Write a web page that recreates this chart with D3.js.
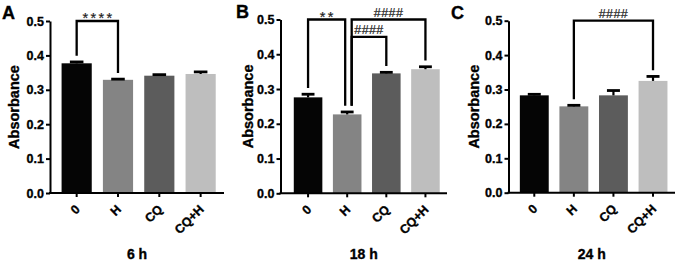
<!DOCTYPE html>
<html>
<head>
<meta charset="utf-8">
<script src="https://cdn.jsdelivr.net/npm/d3@7"></script>
<style>
  html, body { margin: 0; padding: 0; background: #fff; }
  svg { display: block; font-family: "Liberation Sans", Arial, sans-serif; }
  .heavy { font-weight: bold; stroke: #000; stroke-width: 0.35px; fill: #000; }
</style>
</head>
<body>
<div id="chart"></div>
<script>
// --- data ---
const categories = ['0', 'H', 'CQ', 'CQ+H'];
const panelLetters = ['A', 'B', 'C'];
const timeLabels = ['6 h', '18 h', '24 h'];
const yTicks = [0, 0.1, 0.2, 0.3, 0.4, 0.5];

const means6h = [0.377, 0.329, 0.341, 0.346];
const sem6h = [0.004, 0.002, 0.003, 0.006];
const means18h = [0.276, 0.227, 0.345, 0.357];
const sem18h = [0.009, 0.007, 0.003, 0.007];
const means24h = [0.283, 0.251, 0.283, 0.325];
const sem24h = [0.003, 0.003, 0.014, 0.013];

const brackets6h = [{ from: '0', to: 'H', level: 0.5, label: '****' }];
const brackets18h = [
  { from: '0', to: 'H', level: 0.5, label: '**' },
  { from: 'H', to: 'CQ+H', level: 0.5, label: '####' },
  { from: 'H', to: 'CQ', level: 0.45, label: '####' }
];
const brackets24h = [{ from: 'H', to: 'CQ+H', level: 0.5, label: '####' }];

const barColors = ['#050505', '#848484', '#5c5c5c', '#bebebe'];

// layout of the three panels (pixel frame of each plot area)
const panels = [
  { means: means6h, sem: sem6h, brackets: brackets6h,
    axisX: 50, axisEnd: 224, band: [56, 221.3], top: 21, bottom: 193,
    letter: [2, 19], titleOff: 31 },
  { means: means18h, sem: sem18h, brackets: brackets18h,
    axisX: 280.5, axisEnd: 447, band: [288.5, 445], top: 19.5, bottom: 193.3,
    letter: [236, 18], titleOff: 28 },
  { means: means24h, sem: sem24h, brackets: brackets24h,
    axisX: 508.5, axisEnd: 675, band: [514.5, 672.8], top: 20.7, bottom: 192.7,
    letter: [451, 19], titleOff: 30 }
];

const W = 677, H = 265;
const svg = d3.select('#chart').append('svg')
  .attr('width', W).attr('height', H)
  .attr('viewBox', `0 0 ${W} ${H}`);

panels.forEach((p, pi) => {
  const g = svg.append('g');

  const x = d3.scaleBand().domain(categories).range(p.band)
    .paddingInner(0.27).paddingOuter(0.135);
  const y = d3.scaleLinear().domain([0, 0.5]).range([p.bottom, p.top]);
  const cx = (c) => x(c) + x.bandwidth() / 2;

  // bars
  g.selectAll('rect.bar')
    .data(categories)
    .join('rect')
    .attr('class', 'bar')
    .attr('x', (d) => x(d))
    .attr('width', x.bandwidth())
    .attr('y', (d, i) => y(p.means[i]))
    .attr('height', (d, i) => y(0) - y(p.means[i]))
    .attr('fill', (d, i) => barColors[i]);

  // error bars (upper only, GraphPad style)
  const capW = x.bandwidth() * 0.45;
  const err = g.selectAll('g.err').data(categories).join('g').attr('class', 'err');
  err.append('line')
    .attr('x1', (d) => cx(d)).attr('x2', (d) => cx(d))
    .attr('y1', (d, i) => y(p.means[i]))
    .attr('y2', (d, i) => y(p.means[i] + p.sem[i]))
    .attr('stroke', '#000').attr('stroke-width', 2.2);
  err.append('line')
    .attr('x1', (d) => cx(d) - capW / 2).attr('x2', (d) => cx(d) + capW / 2)
    .attr('y1', (d, i) => y(p.means[i] + p.sem[i]))
    .attr('y2', (d, i) => y(p.means[i] + p.sem[i]))
    .attr('stroke', '#000').attr('stroke-width', 2.8);

  // y axis
  const yAxisG = g.append('g')
    .attr('transform', `translate(${p.axisX},0)`)
    .call(d3.axisLeft(y).tickValues(yTicks).tickFormat(d3.format('.1f'))
      .tickSize(4).tickSizeOuter(0).tickPadding(2));
  yAxisG.select('.domain').attr('stroke-width', 2);
  yAxisG.selectAll('.tick line').attr('stroke-width', 2);
  yAxisG.selectAll('.tick text')
    .attr('class', 'heavy')
    .attr('font-size', 12.5)
    .attr('font-family', '"Liberation Sans", Arial, sans-serif');

  // x axis
  const xAxisG = g.append('g')
    .attr('transform', `translate(0,${p.bottom})`)
    .call(d3.axisBottom(x).tickSize(4).tickSizeOuter(0));
  xAxisG.select('.domain')
    .attr('d', `M${p.axisX - 1},0H${p.axisEnd}`)
    .attr('stroke-width', 2);
  xAxisG.selectAll('.tick line').attr('stroke-width', 2);
  xAxisG.selectAll('.tick text')
    .attr('x', 0).attr('y', 0).attr('dy', 0)
    .attr('transform', 'translate(4,17) rotate(-45)')
    .attr('text-anchor', 'end')
    .attr('class', 'heavy')
    .attr('font-size', 12.5)
    .attr('font-family', '"Liberation Sans", Arial, sans-serif');

  // axis titles
  g.append('text')
    .attr('class', 'heavy')
    .attr('transform', `translate(${p.axisX - p.titleOff},${(p.top + p.bottom) / 2}) rotate(-90)`)
    .attr('text-anchor', 'middle')
    .attr('font-size', 14.5)
    .text('Absorbance');

  g.append('text')
    .attr('class', 'heavy')
    .attr('x', (p.axisX + p.axisEnd) / 2)
    .attr('y', 259)
    .attr('text-anchor', 'middle')
    .attr('font-size', 14)
    .text(timeLabels[pi]);

  // panel letter
  g.append('text')
    .attr('class', 'heavy')
    .attr('x', p.letter[0]).attr('y', p.letter[1])
    .attr('font-size', 18)
    .text(panelLetters[pi]);

  // significance brackets; nudge legs when a bar is shared by several brackets
  const uses = {};
  p.brackets.forEach((b) => {
    uses[b.from] = (uses[b.from] || 0) + 1;
    uses[b.to] = (uses[b.to] || 0) + 1;
  });
  const legEnd = (c) => {
    const i = categories.indexOf(c);
    return y(p.means[i] + p.sem[i] + 0.018);
  };

  p.brackets.forEach((b) => {
    const x1 = cx(b.from) + (uses[b.from] > 1 ? 4.5 : 0);
    const x2 = cx(b.to) - (uses[b.to] > 1 ? 2 : 0);
    const yTop = y(b.level);
    g.append('path')
      .attr('d', `M${x1},${legEnd(b.from)}V${yTop}H${x2}V${legEnd(b.to)}`)
      .attr('fill', 'none')
      .attr('stroke', '#000')
      .attr('stroke-width', 2.3);

    const isStar = b.label[0] === '*';
    g.append('text')
      .attr('x', (x1 + x2) / 2 + (isStar ? 1.2 : 0))
      .attr('y', isStar ? yTop + 2 : yTop - 3)
      .attr('text-anchor', 'middle')
      .attr('font-size', isStar ? 14.5 : 12.5)
      .attr('letter-spacing', isStar ? 2.4 : 0.4)
      .attr('fill', '#222')
      .attr('stroke', '#222')
      .attr('stroke-width', 0.2)
      .text(b.label);
  });
});
</script>
</body>
</html>
